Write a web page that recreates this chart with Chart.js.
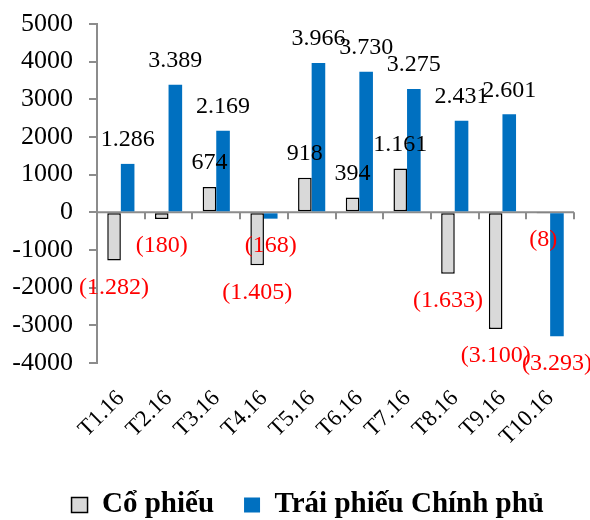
<!DOCTYPE html>
<html>
<head>
<meta charset="utf-8">
<script src="https://cdn.jsdelivr.net/npm/chart.js@4/dist/chart.umd.min.js"></script>
<style>
  html, body { margin: 0; padding: 0; background: #fff; }
  #wrap { width: 590px; height: 520px; position: relative; }
</style>
</head>
<body>
<div id="wrap"><canvas id="c" width="590" height="520"></canvas></div>
<script>
const categories = ['T1.16','T2.16','T3.16','T4.16','T5.16','T6.16','T7.16','T8.16','T9.16','T10.16'];
const coPhieu = [-1282, -180, 674, -1405, 918, 394, 1161, -1633, -3100, -8];
const traiPhieu = [1286, 3389, 2169, -168, 3966, 3730, 3275, 2431, 2601, -3293];
const seriesNames = ['Cổ phiếu', 'Trái phiếu Chính phủ'];
const yTicks = [-4000, -3000, -2000, -1000, 0, 1000, 2000, 3000, 4000, 5000];

const SERIF = '"Liberation Serif", "Times New Roman", serif';

function fmt(v) {
  const s = String(Math.abs(v)).replace(/\B(?=(\d{3})+(?!\d))/g, '.');
  return v < 0 ? '(' + s + ')' : s;
}

const labelPlugin = {
  id: 'barLabels',
  afterDatasetsDraw(chart) {
    const ctx = chart.ctx;
    ctx.save();
    ctx.font = '24px ' + SERIF;
    ctx.textAlign = 'center';
    ctx.textBaseline = 'middle';
    chart.data.datasets.forEach((ds, di) => {
      const meta = chart.getDatasetMeta(di);
      meta.data.forEach((el, i) => {
        const v = ds.data[i];
        if (v < 0) {
          ctx.fillStyle = '#ff0000';
          ctx.fillText(fmt(v), el.x, el.y + 27);
        } else {
          ctx.fillStyle = '#000000';
          ctx.fillText(fmt(v), el.x, el.y - 24);
        }
      });
    });
    ctx.restore();
  }
};

const zeroLinePlugin = {
  id: 'zeroLine',
  beforeDatasetsDraw(chart) {
    const ctx = chart.ctx;
    const xs = chart.scales.x, ys = chart.scales.y;
    const y0 = ys.getPixelForValue(0);
    ctx.save();
    ctx.strokeStyle = '#8c8c8c';
    ctx.lineWidth = 2;
    ctx.beginPath();
    ctx.moveTo(chart.chartArea.left, y0);
    ctx.lineTo(chart.chartArea.right, y0);
    for (let i = 0; i <= categories.length; i++) {
      const px = Math.round(xs.getPixelForValue(i - 0.5));
      ctx.moveTo(px, y0);
      ctx.lineTo(px, y0 + 7);
    }
    ctx.stroke();
    ctx.restore();
  }
};

new Chart(document.getElementById('c'), {
  type: 'bar',
  data: {
    labels: categories,
    datasets: [
      {
        label: seriesNames[0],
        data: coPhieu,
        backgroundColor: '#d9d9d9',
        borderColor: '#000000',
        borderWidth: 1.5,
        borderSkipped: false
      },
      {
        label: seriesNames[1],
        data: traiPhieu,
        backgroundColor: '#0070c0',
        borderColor: '#0070c0',
        borderWidth: 0
      }
    ]
  },
  options: {
    responsive: false,
    animation: false,
    devicePixelRatio: 1,
    datasets: { bar: { categoryPercentage: 0.57, barPercentage: 1.0 } },
    layout: { padding: { top: 0, right: 16, left: 0, bottom: -9.5 } },
    plugins: {
      tooltip: { enabled: false },
      legend: {
        position: 'bottom',
        align: 'end',
        labels: {
          color: '#000',
          font: { family: SERIF, size: 29, weight: 'bold' },
          boxWidth: 16,
          boxHeight: 15,
          padding: 30
        }
      }
    },
    scales: {
      x: {
        grid: { display: false },
        border: { display: false },
        afterFit(scale) { scale.height = 97.5; },
        ticks: {
          color: '#000',
          font: { family: SERIF, size: 23 },
          maxRotation: 45,
          minRotation: 45,
          padding: 14
        }
      },
      y: {
        min: -4000,
        max: 5000,
        afterBuildTicks(scale) { scale.ticks = yTicks.map(v => ({ value: v })); },
        afterFit(scale) { scale.width = 97; scale.paddingTop = 24; scale.paddingBottom = 0; },
        border: { display: true, color: '#8c8c8c', width: 2 },
        grid: { display: true, drawOnChartArea: false, drawTicks: true, tickLength: 8, color: '#8c8c8c', lineWidth: 2 },
        ticks: {
          color: '#000',
          font: { family: SERIF, size: 26 },
          padding: 16,
          autoSkip: false,
          callback: (v) => String(v)
        }
      }
    }
  },
  plugins: [labelPlugin, zeroLinePlugin]
});
</script>
</body>
</html>
